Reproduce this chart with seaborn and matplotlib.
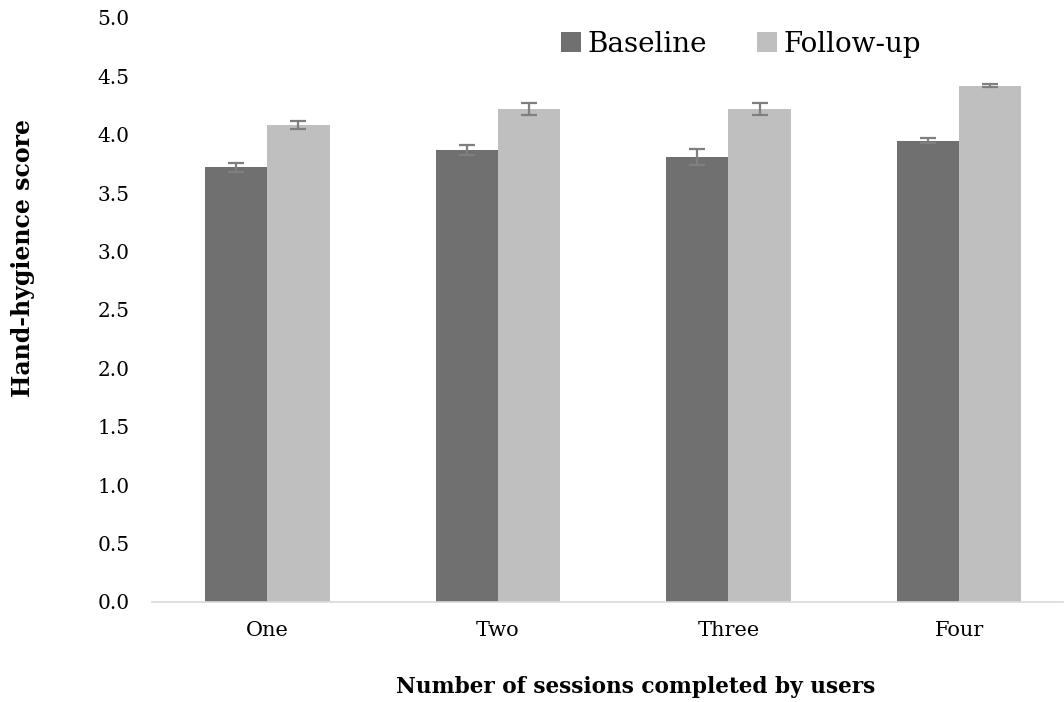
import numpy as np
import pandas as pd
import matplotlib
matplotlib.use('Agg')
import matplotlib.pyplot as plt
import seaborn as sns

# 数据
sessions = ['One', 'Two', 'Three', 'Four']
baseline = [3.72, 3.87, 3.81, 3.95]
followup = [4.08, 4.22, 4.22, 4.42]
baseline_err = [0.04, 0.045, 0.065, 0.02]
followup_err = [0.035, 0.05, 0.055, 0.015]
groups = ['Baseline', 'Follow-up']
colors = ['#707070', '#bfbfbf']

df = pd.DataFrame({
    'session': sessions * 2,
    'group': [groups[0]] * 4 + [groups[1]] * 4,
    'score': baseline + followup,
    'err': baseline_err + followup_err,
})

sns.set_style('white')
plt.rcParams['font.family'] = ['DejaVu Serif']
plt.rcParams['text.color'] = 'black'
plt.rcParams['axes.labelcolor'] = 'black'
plt.rcParams['xtick.color'] = 'black'
plt.rcParams['ytick.color'] = 'black'

fig = plt.figure(figsize=(10.64, 7.02), dpi=100)
ax = fig.add_axes([0.1429, 0.1425, 0.856, 0.832])

sns.barplot(data=df, x='session', y='score', hue='group', order=sessions,
            hue_order=groups, palette=colors, width=0.54, errorbar=None,
            linewidth=0, saturation=1, ax=ax)

# 误差线
for cont, g in zip(ax.containers, groups):
    sub = df[df['group'] == g]
    xs = [p.get_x() + p.get_width() / 2 for p in cont.patches]
    ax.errorbar(xs, sub['score'].values, yerr=sub['err'].values, fmt='none',
                ecolor='#7f7f7f', elinewidth=1.6, capsize=5.5, capthick=1.6)

ax.set_ylim(0, 5)
ax.set_xlim(-0.5, 3.45)
ax.set_yticks(np.arange(0, 5.01, 0.5))
ax.set_yticklabels([f'{v:.1f}' for v in np.arange(0, 5.01, 0.5)], fontsize=14.5)
ax.tick_params(axis='y', length=0, pad=16)
ax.tick_params(axis='x', length=0, pad=14, labelsize=15)

for s in ['top', 'right', 'left']:
    ax.spines[s].set_visible(False)
ax.spines['bottom'].set_color('#d9d9d9')
ax.spines['bottom'].set_linewidth(1.2)

ax.set_xlabel('Number of sessions completed by users', fontsize=15.6, fontweight='bold')
ax.set_ylabel('Hand-hygience score', fontsize=17, fontweight='bold')
ax.xaxis.set_label_coords(0.531, -0.127)
ax.yaxis.set_label_coords(-0.128, 0.589)

leg = ax.legend(loc='upper left', bbox_to_anchor=(0.422, 1.021), ncol=2, frameon=False,
                fontsize=20, handlelength=0.7, handleheight=0.7, handletextpad=0.25,
                columnspacing=1.8)

plt.savefig('out.png', dpi=100)
